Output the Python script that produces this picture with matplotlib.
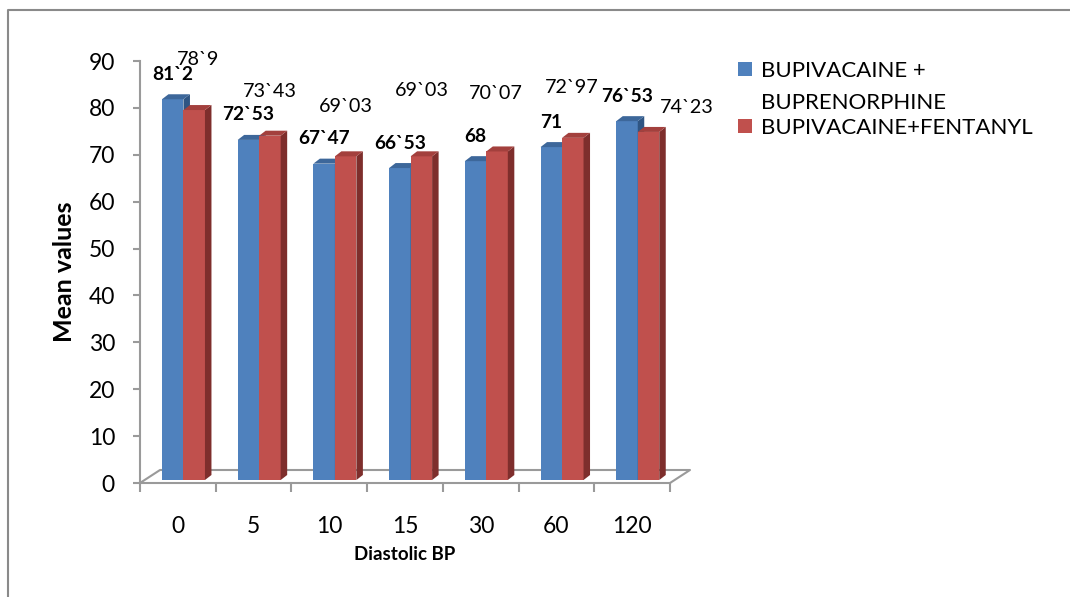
import matplotlib
matplotlib.use('Agg')
import matplotlib.pyplot as plt
from matplotlib.patches import Polygon, Rectangle
from matplotlib.lines import Line2D

plt.rcParams['font.family'] = ['Lato', 'DejaVu Sans']

# mean diastolic BP at each time point (minutes)
minutes = ['0', '5', '10', '15', '30', '60', '120']
bupre_dbp = [81.2, 72.53, 67.47, 66.53, 68, 71, 76.53]
fenta_dbp = [78.9, 73.43, 69.03, 69.03, 70.07, 72.97, 74.23]
series_names = ['BUPIVACAINE +\nBUPRENORPHINE', 'BUPIVACAINE+FENTANYL']

# where the fentanyl value labels were dragged to (pixels from bar top)
fenta_label_shift = [(4, 51), (0, 44), (0, 50), (0, 66), (-1, 58), (-1, 50), (38, 24)]

W, H = 1070, 597
GREY = '#9a9a9a'
blue = ('#4F81BD', '#3D679A', '#2F5583')   # front, top, side
red = ('#C0504D', '#A3403D', '#7E2E2C')


def fmt(v):
    # decimal mark is a backtick in the source sheet
    s = ('%.2f' % v).rstrip('0').rstrip('.')
    return s.replace('.', '`')


fig = plt.figure(figsize=(W / 100, H / 100), dpi=100)
fig.patch.set_facecolor('white')

# plot area in pixels: x 140..670, y 483 (0) .. 61 (90)
ax = fig.add_axes([140 / W, 1 - 483 / H, 530 / W, 422 / H])
n = len(minutes)
ax.set_xlim(-0.5, n - 0.5)
ax.set_ylim(0, 90)
px_x = n / 530.0
px_y = 90 / 422.0

for s in ['top', 'right']:
    ax.spines[s].set_visible(False)
for s in ['left', 'bottom']:
    ax.spines[s].set_color(GREY)
    ax.spines[s].set_linewidth(1.5)

ax.set_yticks(range(0, 91, 10))
ax.tick_params(axis='y', length=5, width=1.5, color=GREY, labelsize=16.5, pad=13)
ax.set_xticks(range(n))
ax.set_xticklabels(minutes)
ax.tick_params(axis='x', which='major', length=0, labelsize=16.5, pad=24)
ax.set_xticks([i - 0.5 for i in range(n + 1)], minor=True)
ax.tick_params(axis='x', which='minor', length=6.5, width=1.5, color=GREY)

# floor of the 3-D box
fx, fy = 20 * px_x, 13 * px_y
floor = [(-0.5, 0), (-0.5 + fx, fy), (n - 0.5 + fx, fy), (n - 0.5, 0)]
ax.add_line(Line2D([p[0] for p in floor], [p[1] for p in floor], color=GREY,
                   lw=1.5, clip_on=False, zorder=1))

# bars with side and top faces
w = 0.284
sx, sy = 5.6 * px_x, 3 * px_y
dx, dy = 6.5 * px_x, 5 * px_y
for k, (vals, cols) in enumerate([(bupre_dbp, blue), (fenta_dbp, red)]):
    lefts = [i - w + k * w + sx for i in range(n)]
    ax.bar(lefts, vals, width=w, bottom=sy, align='edge', color=cols[0],
           zorder=3 + k, clip_on=False)
    for x0, v in zip(lefts, vals):
        y1 = v + sy
        ax.add_patch(Polygon([(x0 + w, sy), (x0 + w, y1), (x0 + w + dx, y1 + dy),
                              (x0 + w + dx, sy + dy)], closed=True, fc=cols[2],
                             ec='none', zorder=3 + k, clip_on=False))
        ax.add_patch(Polygon([(x0, y1), (x0 + w, y1), (x0 + w + dx, y1 + dy),
                              (x0 + dx, y1 + dy)], closed=True, fc=cols[1],
                             ec='none', zorder=3 + k, clip_on=False))

# value labels
for i, v in enumerate(bupre_dbp):
    ax.annotate(fmt(v), xy=(i - w / 2 + sx, v + sy), xytext=(0, 25),
                textcoords='offset pixels', ha='center', va='center',
                fontsize=13.8, fontweight='bold', zorder=6)
for i, v in enumerate(fenta_dbp):
    ox, oy = fenta_label_shift[i]
    ax.annotate(fmt(v), xy=(i + w / 2 + sx, v + sy), xytext=(ox, oy),
                textcoords='offset pixels', ha='center', va='center',
                fontsize=14.2, zorder=6)

fig.text(65 / W, 1 - 272 / H, 'Mean values', rotation=90, ha='center',
         va='center', fontsize=18, fontweight='bold')
fig.text(405 / W, 1 - 555 / H, 'Diastolic BP', ha='center', va='center',
         fontsize=13.5, fontweight='bold')

# legend drawn by hand
leg_rows = [69, 125.5]
for name, cols, yc in zip(series_names, [blue, red], leg_rows):
    fig.add_artist(Rectangle((738 / W, 1 - (yc + 7) / H), 14 / W, 14 / H,
                             transform=fig.transFigure, fc=cols[0], ec='none'))
    for j, line in enumerate(name.split('\n')):
        fig.text(761 / W, 1 - (yc + 32 * j) / H, line, ha='left',
                 va='center_baseline', fontsize=16)

# outer chart frame (top and left edges only)
fig.add_artist(Line2D([8 / W, 8 / W, 1], [0, 1 - 10 / H, 1 - 10 / H],
                      transform=fig.transFigure, color='#8a8a8a', lw=1.5))

fig.savefig('out.png', dpi=100)
